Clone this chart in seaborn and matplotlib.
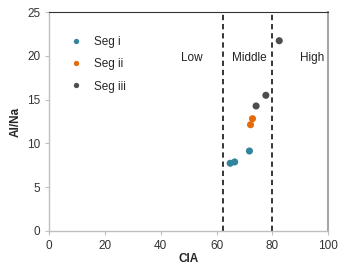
import pandas as pd
import numpy as np
import matplotlib
matplotlib.use('Agg')
import matplotlib.pyplot as plt
import seaborn as sns

# CIA vs Al/Na for the three segments
seg_i_cia = [64.9, 66.5, 71.8]
seg_i_alna = [7.73, 7.88, 9.13]
seg_ii_cia = [72.2, 72.9]
seg_ii_alna = [12.13, 12.82]
seg_iii_cia = [74.2, 77.7, 82.5]
seg_iii_alna = [14.27, 15.49, 21.72]

segments = ['Seg i', 'Seg ii', 'Seg iii']
colors = ['#31849B', '#E36C09', '#4D4D4D']
zones = ['Low', 'Middle', 'High']
zone_x = [51, 71.8, 94.3]
bounds = [62.5, 80]

df = pd.concat([
    pd.DataFrame({'CIA': seg_i_cia, 'Al/Na': seg_i_alna, 'seg': 'Seg i'}),
    pd.DataFrame({'CIA': seg_ii_cia, 'Al/Na': seg_ii_alna, 'seg': 'Seg ii'}),
    pd.DataFrame({'CIA': seg_iii_cia, 'Al/Na': seg_iii_alna, 'seg': 'Seg iii'}),
])

sns.set_style('white')
plt.rcParams['font.family'] = ['Liberation Sans', 'DejaVu Sans']

fig = plt.figure(figsize=(3.46, 2.73), dpi=100)
ax = fig.add_axes([0.1425, 0.154, 0.8055, 0.802])

sns.scatterplot(data=df, x='CIA', y='Al/Na', hue='seg', hue_order=segments,
                palette=colors, s=26, edgecolor='none', ax=ax, zorder=3)

for b in bounds:
    ax.axvline(b, color='black', ls=(0, (3.5, 2.5)), lw=1.1, zorder=2)
for name, zx in zip(zones, zone_x):
    ax.text(zx, 19.75, name, ha='center', va='center', fontsize=8.5, color='#222222')

ax.set_xlim(0, 100)
ax.set_ylim(0, 25)
ax.set_xticks(range(0, 101, 20))
ax.set_yticks(range(0, 26, 5))
ax.tick_params(labelsize=8.5, colors='#BFBFBF', labelcolor='#333333',
               length=3, width=0.8, direction='out', bottom=True, left=True)
ax.set_xlabel('CIA', fontsize=8.5, fontweight='bold', labelpad=1)
ax.set_ylabel('Al/Na', fontsize=8.5, fontweight='bold', labelpad=4)

for side in ['left', 'bottom']:
    ax.spines[side].set_color('#BFBFBF')
    ax.spines[side].set_linewidth(1.0)
ax.spines['top'].set_color('#333333')
ax.spines['top'].set_linewidth(0.8)
ax.spines['right'].set_color('#A6A6A6')
ax.spines['right'].set_linewidth(1.5)

leg = ax.legend(loc='upper left', bbox_to_anchor=(0.035, 0.91), frameon=False,
                fontsize=8.5, markerscale=0.75, handletextpad=0.6, labelspacing=0.85,
                borderaxespad=0)

fig.savefig('out.png', dpi=100)
